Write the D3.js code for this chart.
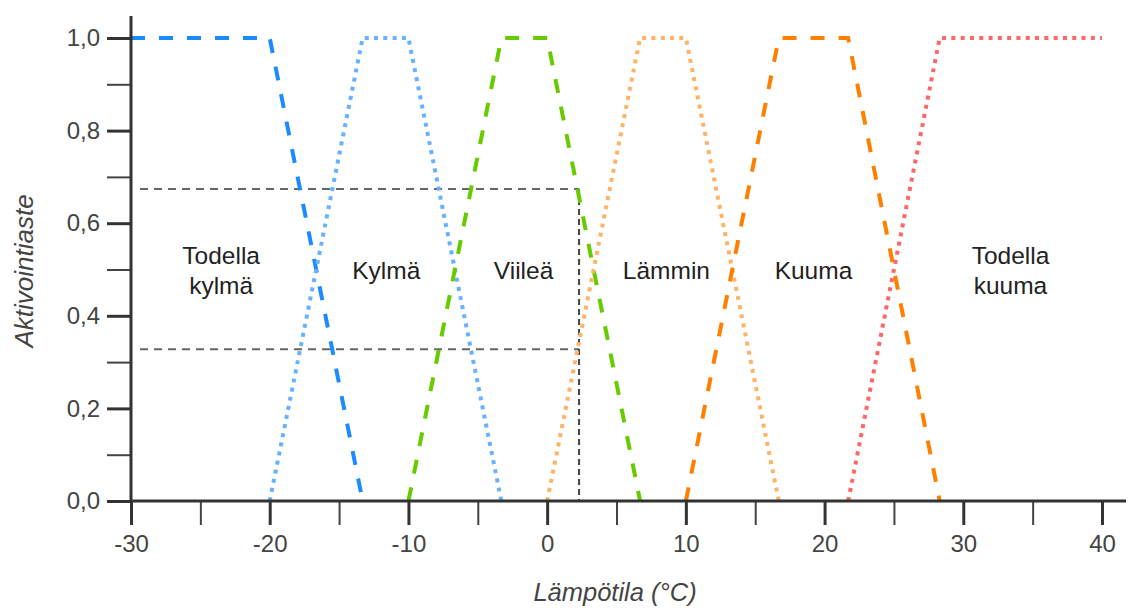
<!DOCTYPE html>
<html><head><meta charset="utf-8">
<script src="https://cdn.jsdelivr.net/npm/d3@7"></script>
<style>
body{margin:0;background:#fff;}
text{font-family:"Liberation Sans",Arial,sans-serif;}
</style></head>
<body><svg id="c" width="1128" height="608"></svg>
<script>
// ---- data ----
const categories = ["Todella kylmä","Kylmä","Viileä","Lämmin","Kuuma","Todella kuuma"];
const seriesX = [
  [-30, -20, -13.3],
  [-20, -13.3, -10, -3.3],
  [-10, -3.3, 0, 6.7],
  [0, 6.7, 10, 16.7],
  [10, 16.7, 21.7, 28.3],
  [21.7, 28.3, 40]
];
const seriesY = [
  [1, 1, 0],
  [0, 1, 1, 0],
  [0, 1, 1, 0],
  [0, 1, 1, 0],
  [0, 1, 1, 0],
  [0, 1, 1]
];
const seriesColor = ["#1a8cff","#66b2ff","#66cc00","#ffb366","#ff8000","#ff6666"];
const seriesStyle = ["dash","dot","dash","dot","dash","dot"];
const labelLines = [["Todella","kylmä"],["Kylmä"],["Viileä"],["Lämmin"],["Kuuma"],["Todella","kuuma"]];
const labelX = [-23.5, -11.6, -1.7, 8.6, 19.2, 33.4];
const labelY = 0.5;
const guideX = 2.3;
const guideLevels = [0.674, 0.328];
const xMajorTicks = [-30,-20,-10,0,10,20,30,40];
const xMinorTicks = [-25,-15,-5,5,15,25,35];
const yMajorTicks = [0,0.2,0.4,0.6,0.8,1.0];
const yMinorTicks = [0.1,0.3,0.5,0.7,0.9];

// ---- scales ----
const svg = d3.select("#c");
const x = d3.scaleLinear().domain([-30, 40]).range([131, 1102]);
const y = d3.scaleLinear().domain([0, 1]).range([501, 38]);
const fmtY = d => d3.format(".1f")(d).replace(".", ",");
const fmtX = d => String(d);

// guides
const g = svg.append("g");
guideLevels.forEach(v => {
  g.append("line").attr("x1", x(-29.35)).attr("x2", x(guideX))
   .attr("y1", y(v)).attr("y2", y(v))
   .attr("stroke", "#666").attr("stroke-width", 2).attr("stroke-dasharray", "8,6");
});
g.append("line").attr("x1", x(guideX)).attr("x2", x(guideX))
 .attr("y1", y(guideLevels[0])).attr("y2", y(0))
 .attr("stroke", "#444").attr("stroke-width", 2).attr("stroke-dasharray", "6,4");

// series
const line = d3.line().x(d => x(d[0])).y(d => y(d[1]));
categories.forEach((c, i) => {
  const pts = seriesX[i].map((v, j) => [v, seriesY[i][j]]);
  svg.append("path").attr("d", line(pts)).attr("fill", "none")
    .attr("stroke", seriesColor[i]).attr("stroke-width", 4)
    .attr("stroke-dasharray", seriesStyle[i] === "dash" ? "14,14" : "4,5.3");
});

// labels
categories.forEach((c, i) => {
  const lines = labelLines[i];
  const t = svg.append("text").attr("text-anchor", "middle")
    .attr("font-size", 24.5).attr("fill", "#222");
  lines.forEach((l, k) => {
    t.append("tspan").attr("x", x(labelX[i]))
     .attr("y", y(labelY) + 9 + (k - (lines.length - 1) / 2) * 30).text(l);
  });
});

// axes
const ax = svg.append("g").attr("transform", `translate(0,${y(0)})`);
ax.call(d3.axisBottom(x).tickValues(xMajorTicks).tickSize(24).tickPadding(10).tickFormat(fmtX));
ax.select(".domain").remove();
ax.selectAll(".tick line").attr("stroke", "#333").attr("stroke-width", 3);
ax.selectAll(".tick text").attr("font-size", 24).attr("fill", "#444")
  .attr("font-family", "Liberation Sans, Arial, sans-serif");
const axm = svg.append("g").attr("transform", `translate(0,${y(0)})`);
axm.call(d3.axisBottom(x).tickValues(xMinorTicks).tickSize(24).tickFormat(""));
axm.select(".domain").remove();
axm.selectAll(".tick line").attr("stroke", "#444").attr("stroke-width", 2);

const ay = svg.append("g").attr("transform", `translate(${x(-30)},0)`);
ay.call(d3.axisLeft(y).tickValues(yMajorTicks).tickSize(24).tickPadding(7).tickFormat(fmtY));
ay.select(".domain").remove();
ay.selectAll(".tick line").attr("stroke", "#333").attr("stroke-width", 3);
ay.selectAll(".tick text").attr("font-size", 24).attr("fill", "#444")
  .attr("font-family", "Liberation Sans, Arial, sans-serif");
const aym = svg.append("g").attr("transform", `translate(${x(-30)},0)`);
aym.call(d3.axisLeft(y).tickValues(yMinorTicks).tickSize(24).tickFormat(""));
aym.select(".domain").remove();
aym.selectAll(".tick line").attr("stroke", "#444").attr("stroke-width", 2);

// axis lines
svg.append("line").attr("x1", x(-30)).attr("x2", x(-30)).attr("y1", 16).attr("y2", y(0))
  .attr("stroke", "#333").attr("stroke-width", 3);
svg.append("line").attr("x1", x(-30)).attr("x2", 1126).attr("y1", y(0)).attr("y2", y(0))
  .attr("stroke", "#333").attr("stroke-width", 3);

// titles
svg.append("text").attr("x", 615).attr("y", 601).attr("text-anchor", "middle")
  .attr("font-size", 25.5).attr("font-style", "italic").attr("fill", "#444").text("Lämpötila (°C)");
svg.append("text").attr("transform", "translate(33,271) rotate(-90)").attr("text-anchor", "middle")
  .attr("font-size", 26).attr("font-style", "italic").attr("fill", "#444").text("Aktivointiaste");
</script></body></html>
